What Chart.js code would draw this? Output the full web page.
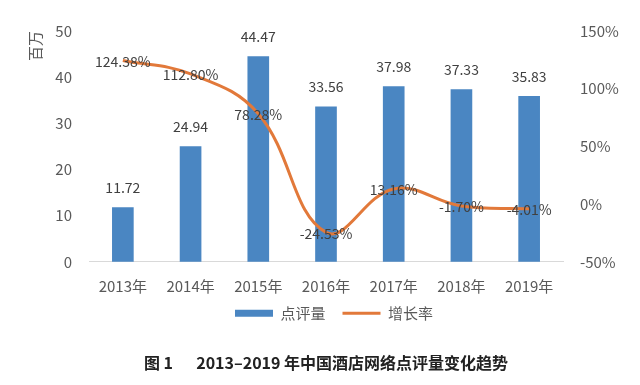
<!DOCTYPE html>
<html>
<head>
<meta charset="utf-8">
<script src="https://cdn.jsdelivr.net/npm/chart.js@4"></script>
<style>
  html, body { margin: 0; padding: 0; background: #fff; }
  #wrap { width: 640px; height: 385px; }
</style>
</head>
<body>
<div id="wrap"><canvas id="plot" width="640" height="385"></canvas></div>
<script>
const years = ['2013年', '2014年', '2015年', '2016年', '2017年', '2018年', '2019年'];
const reviews = [11.72, 24.94, 44.47, 33.56, 37.98, 37.33, 35.83];   // 百万
const growth = [124.38, 112.80, 78.28, -24.53, 13.16, -1.70, -4.01]; // %
const leftTicks = [0, 10, 20, 30, 40, 50];
const rightTicks = [-50, 0, 50, 100, 150];

const FONT = '"Noto Sans CJK SC", "Noto Sans", sans-serif';

// value labels: above the bars, centred on the line points
const valueLabels = {
  id: 'valueLabels',
  afterLayout(chart) {
    // pull the legend up a little closer to the axis labels
    const lg = chart.legend;
    lg.top -= 7; lg.bottom -= 7;
    lg.left += 8; lg.right += 8;
  },
  afterDatasetsDraw(chart) {
    const ctx = chart.ctx;
    ctx.save();
    ctx.font = '14px ' + FONT;
    ctx.fillStyle = '#404040';
    ctx.textAlign = 'center';
    ctx.textBaseline = 'middle';
    chart.getDatasetMeta(1).data.forEach((bar, i) => {
      ctx.fillText(reviews[i].toFixed(2), bar.x, bar.y - 20);
    });
    chart.getDatasetMeta(0).data.forEach((pt, i) => {
      ctx.fillText(growth[i].toFixed(2) + '%', pt.x, pt.y + 1);
    });
    ctx.restore();
  }
};

const data = {
  labels: years,
  datasets: [{
    type: 'line',
    label: '增长率',
    data: growth,
    yAxisID: 'y1',
    borderColor: '#e2793a',
    backgroundColor: '#e2793a',
    borderWidth: 3,
    pointRadius: 0,
    tension: 0.4,
    order: 0
  }, {
    type: 'bar',
    label: '点评量',
    data: reviews,
    yAxisID: 'y',
    backgroundColor: '#4a86c2',
    barThickness: 21,
    order: 1
  }]
};

const config = {
  type: 'bar',
  data: data,
  options: {
    responsive: false,
    animation: false,
    layout: { padding: { top: 31, left: 0, right: 0, bottom: 0 } },
    scales: {
      x: {
        grid: { display: false, drawTicks: false },
        border: { display: true, color: '#d9d9d9', width: 1 },
        ticks: { color: '#595959', font: { family: FONT, size: 15 }, padding: 15, maxRotation: 0 },
        afterFit(s) { s.height = 34; }
      },
      y: {
        position: 'left',
        min: leftTicks[0],
        max: leftTicks[leftTicks.length - 1],
        grid: { display: false, drawTicks: false },
        border: { display: false },
        ticks: { stepSize: leftTicks[1] - leftTicks[0], color: '#595959', font: { family: FONT, size: 15 }, padding: 17 },
        title: { display: true, text: '百万', align: 'end', color: '#595959', font: { family: FONT, size: 15 }, padding: { top: 26, bottom: 0 } },
        afterFit(s) { s.width = 89; }
      },
      y1: {
        position: 'right',
        min: rightTicks[0],
        max: rightTicks[rightTicks.length - 1],
        grid: { display: false, drawTicks: false },
        border: { display: false },
        ticks: { stepSize: rightTicks[1] - rightTicks[0], color: '#595959', font: { family: FONT, size: 15 }, padding: 17,
                 callback: v => v + '%' },
        afterFit(s) { s.width = 77; }
      }
    },
    plugins: {
      legend: {
        position: 'bottom',
        fullSize: false,
        reverse: true,
        labels: {
          color: '#595959',
          font: { family: FONT, size: 15 },
          usePointStyle: true,
          pointStyleWidth: 38,
          boxHeight: 7,
          padding: 17,
          generateLabels(chart) {
            const items = Chart.defaults.plugins.legend.labels.generateLabels(chart);
            items.forEach(it => {
              const ds = chart.data.datasets[it.datasetIndex];
              it.pointStyle = ds.type === 'line' ? 'line' : 'rect';
              if (ds.type !== 'line') { it.lineWidth = 0; }
            });
            return items;
          }
        }
      },
      title: {
        display: true,
        position: 'bottom',
        fullSize: false,
        text: '图 1\u3000  2013–2019 年中国酒店网络点评量变化趋势',
        color: '#222222',
        font: { family: FONT, size: 16, weight: 'bold' },
        padding: { top: 16, bottom: 12 }
      },
      tooltip: { enabled: false }
    }
  },
  plugins: [valueLabels]
};

let ctx = document.getElementById('plot').getContext('2d');
let chart = new Chart(ctx, config);
</script>
</body>
</html>
